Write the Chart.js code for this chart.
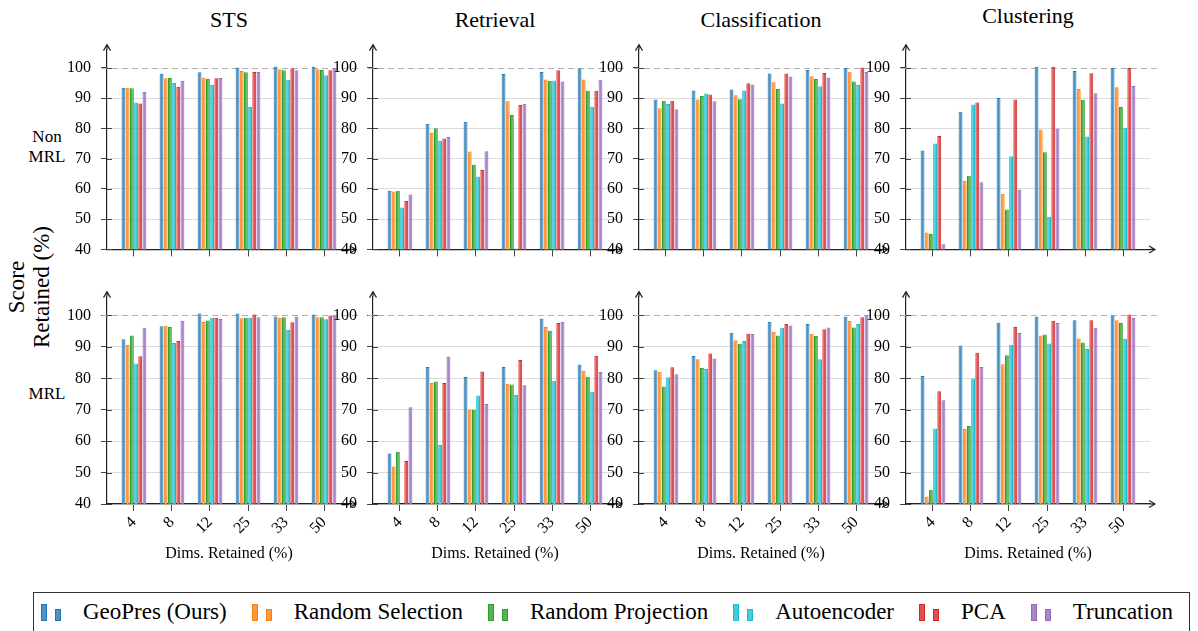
<!DOCTYPE html>
<html>
<head>
<meta charset="utf-8">
<script src="https://cdn.jsdelivr.net/npm/chart.js@4.4.0/dist/chart.umd.min.js"></script>
<style>
  body { margin: 0; background: #fff; font-family: "Liberation Serif", "Times New Roman", serif; color: #000; }
  #page { position: relative; width: 1198px; height: 631px; overflow: hidden; }
  #page canvas { position: absolute; }
  .title { position: absolute; font-size: 22px; line-height: 24px; transform: translateX(-50%); white-space: nowrap; }
  .side { position: absolute; font-size: 17px; line-height: 20px; transform: translateX(-50%); text-align: center; white-space: nowrap; }
  #ylab { position: absolute; left: 29px; top: 287px; transform: translate(-50%, -50%) rotate(-90deg); font-size: 23px; line-height: 25px; text-align: center; white-space: nowrap; }
  #legend { position: absolute; left: 33px; top: 592px; width: 1157px; height: 40px; border: 1px solid #333; display: flex; align-items: center; padding-left: 7px; box-sizing: border-box; font-size: 23px; }
  .item { display: flex; align-items: center; margin-right: 25px; white-space: nowrap; }
  .icon { display: flex; align-items: flex-end; height: 18px; margin-right: 22px; }
  .icon span { display: block; width: 4px; border: 1px solid; }
  .icon span + span { margin-left: 8px; }
</style>
</head>
<body>
<div id="page">
  <div class="title" style="left:229px; top:8px;">STS</div>
  <div class="title" style="left:495px; top:8px;">Retrieval</div>
  <div class="title" style="left:761px; top:8px;">Classification</div>
  <div class="title" style="left:1028px; top:4px;">Clustering</div>
  <div id="ylab">Score<br>Retained (%)</div>
  <div class="side" style="left:47px; top:127px;">Non<br>MRL</div>
  <div class="side" style="left:47px; top:384px;">MRL</div>
  <div id="legend"></div>
</div>

<script>
// Categories, methods and tick values
var dims = ['4', '8', '12', '25', '33', '50'];
var methods = ['GeoPres (Ours)', 'Random Selection', 'Random Projection', 'Autoencoder', 'PCA', 'Truncation'];
var yTicks = [40, 50, 60, 70, 80, 90, 100];

// Bar colours (edge and fill)
var lineColors = ['#1f77b4', '#ff7f0e', '#2ca02c', '#17becf', '#d62728', '#9467bd'];
var fillColors = ['#4c92c3', '#ff993e', '#56b356', '#45cbd9', '#de5253', '#a985ca'];

// Score retained (%), one row per method, one value per dims category
var stsNonMrl = [
  [93.4, 98.0, 98.5, 100.1, 100.4, 100.3],
  [93.4, 96.5, 96.8, 98.9, 99.5, 99.5],
  [93.2, 96.6, 96.4, 98.5, 99.2, 99.3],
  [88.5, 95.0, 94.3, 87.0, 96.0, 97.5],
  [88.2, 93.7, 96.5, 98.6, 99.8, 99.2],
  [92.0, 95.7, 96.6, 98.6, 99.2, 99.8]
];
var retrievalNonMrl = [
  [59.4, 81.5, 82.2, 97.9, 98.6, 99.8],
  [59.1, 78.6, 72.3, 88.9, 96.1, 96.1],
  [59.4, 80.0, 68.0, 84.4, 95.7, 92.4],
  [53.8, 75.9, 64.1, 40.3, 95.8, 87.1],
  [56.0, 76.6, 66.2, 87.7, 99.2, 92.4],
  [58.1, 77.1, 72.4, 88.1, 95.5, 96.0]
];
var classificationNonMrl = [
  [89.5, 92.5, 92.8, 98.1, 99.3, 99.9],
  [86.6, 89.5, 90.9, 95.2, 97.2, 98.7],
  [89.1, 90.7, 89.6, 93.0, 96.3, 95.5],
  [88.0, 91.5, 92.5, 88.2, 93.9, 94.3],
  [89.1, 91.2, 94.9, 98.1, 98.3, 100.1],
  [86.3, 88.9, 94.5, 97.1, 96.8, 98.6]
];
var clusteringNonMrl = [
  [72.7, 85.5, 90.0, 100.3, 98.9, 99.9],
  [45.6, 62.7, 58.4, 79.6, 93.0, 93.6],
  [45.1, 64.3, 53.2, 72.1, 89.4, 87.0],
  [75.0, 87.9, 70.8, 50.8, 77.3, 80.2],
  [77.5, 88.5, 89.5, 100.3, 98.2, 99.9],
  [41.7, 62.2, 59.8, 79.9, 91.6, 94.0]
];
var stsMrl = [
  [92.4, 96.6, 100.6, 100.6, 99.7, 100.3],
  [90.7, 96.7, 97.9, 99.1, 99.3, 99.4],
  [93.6, 96.3, 98.4, 99.3, 99.4, 99.4],
  [84.7, 91.2, 99.3, 99.3, 95.4, 98.8],
  [87.0, 91.9, 99.3, 100.3, 97.8, 100.0],
  [96.1, 98.3, 98.9, 99.4, 99.7, 100.0]
];
var retrievalMrl = [
  [56.1, 83.6, 80.4, 83.6, 99.0, 84.4],
  [51.9, 78.5, 70.0, 78.3, 96.3, 82.4],
  [56.6, 79.0, 70.0, 78.0, 95.1, 80.5],
  [null, 58.8, 74.5, 74.7, 79.2, 75.7],
  [53.7, 78.5, 82.2, 85.8, 97.6, 87.2],
  [70.8, 86.9, 71.8, 77.8, 98.0, 82.0]
];
var classificationMrl = [
  [82.6, 87.1, 94.5, 98.0, 97.3, 99.6],
  [82.1, 86.1, 92.1, 94.8, 94.2, 98.2],
  [77.4, 83.3, 91.0, 93.6, 93.5, 96.2],
  [80.3, 83.0, 91.9, 96.1, 86.1, 97.3],
  [83.5, 87.9, 94.2, 97.3, 95.6, 99.4],
  [81.3, 86.3, 94.1, 96.8, 96.2, 100.1]
];
var clusteringMrl = [
  [80.7, 90.4, 97.7, 99.6, 98.5, 100.0],
  [42.4, 63.9, 84.5, 93.6, 92.7, 98.5],
  [44.5, 64.8, 87.3, 93.9, 91.4, 97.6],
  [64.0, 79.9, 90.7, 91.1, 89.3, 92.6],
  [75.9, 88.1, 96.3, 98.3, 98.5, 100.3],
  [73.0, 83.6, 94.4, 97.6, 96.1, 99.2]
];

var serif = '"Liberation Serif", "Times New Roman", serif';
var colX = [107, 373, 639, 906]; // y axis position of each column
var rowTop = [30, 277];

// Plugin: dashed line at 100, inner tick marks and arrow heads on both axes
var axisArrows = {
  id: 'axisArrows',
  beforeDatasetsDraw: function (chart) {
    var a = chart.chartArea;
    var ctx = chart.ctx;
    var yScale = chart.scales.y;
    var y = Math.round(yScale.getPixelForValue(100)) + 0.5;
    ctx.save();
    ctx.strokeStyle = '#b0b0b0';
    ctx.lineWidth = 1;
    ctx.setLineDash([6, 4]);
    ctx.beginPath();
    ctx.moveTo(a.left - 5, y);
    ctx.lineTo(a.right + 8, y);
    ctx.stroke();
    ctx.setLineDash([]);
    ctx.strokeStyle = '#444';
    ctx.beginPath();
    for (var i = 0; i < yTicks.length; i++) {
      var ty = Math.round(yScale.getPixelForValue(yTicks[i])) + 0.5;
      ctx.moveTo(a.left, ty);
      ctx.lineTo(a.left + 5, ty);
    }
    ctx.stroke();
    ctx.restore();
  },
  afterDraw: function (chart) {
    var a = chart.chartArea;
    var ctx = chart.ctx;
    ctx.save();
    ctx.strokeStyle = '#222';
    ctx.lineWidth = 1.2;
    ctx.beginPath();
    // y axis
    ctx.moveTo(a.left, a.top);
    ctx.lineTo(a.left, a.top - 4);
    ctx.moveTo(a.left - 3.5, a.top + 1);
    ctx.lineTo(a.left, a.top - 5);
    ctx.lineTo(a.left + 3.5, a.top + 1);
    // x axis
    ctx.moveTo(a.right, a.bottom);
    ctx.lineTo(a.right + 4, a.bottom);
    ctx.moveTo(a.right - 1, a.bottom - 3.5);
    ctx.lineTo(a.right + 5, a.bottom);
    ctx.lineTo(a.right - 1, a.bottom + 3.5);
    ctx.stroke();
    ctx.restore();
  }
};

// Function to create one panel of grouped bars
function createPanel(values, col, row) {
  var canvas = document.createElement('canvas');
  var height = row === 1 ? 290 : 239;
  canvas.width = 318;
  canvas.height = height;
  canvas.style.left = (colX[col] - 60) + 'px';
  canvas.style.top = rowTop[row] + 'px';
  document.getElementById('page').appendChild(canvas);

  var datasets = [];
  for (var m = 0; m < methods.length; m++) {
    datasets.push({
      label: methods[m],
      data: values[m].map(function (v, i) { return { x: i, y: v }; }),
      backgroundColor: fillColors[m],
      borderColor: lineColors[m],
      borderWidth: 1,
      categoryPercentage: 0.66,
      barPercentage: 0.92
    });
  }

  new Chart(canvas.getContext('2d'), {
    type: 'bar',
    data: { datasets: datasets },
    plugins: [axisArrows],
    options: {
      responsive: false,
      animation: false,
      layout: { padding: { top: 10, right: 14, left: 0, bottom: 0 } },
      plugins: { legend: { display: false }, tooltip: { enabled: false } },
      scales: {
        x: {
          type: 'linear',
          offset: false,
          min: -0.71,
          max: 5.71,
          afterBuildTicks: function (s) {
            s.ticks = dims.map(function (d, i) { return { value: i }; });
          },
          afterFit: function (s) { s.height = row === 1 ? 63 : 12; },
          grid: { drawOnChartArea: false, offset: false, tickLength: 7, tickColor: '#444' },
          border: { color: '#222', width: 1.2 },
          ticks: {
            autoSkip: false,
            minRotation: 45,
            maxRotation: 45,
            padding: 2,
            color: '#000',
            font: { family: serif, size: 16 },
            callback: function (v) { return row === 1 ? dims[v] : ''; }
          },
          title: {
            display: row === 1,
            text: 'Dims. Retained (%)',
            color: '#000',
            font: { family: serif, size: 16 },
            padding: { top: 0, bottom: 4 }
          }
        },
        y: {
          min: 40,
          max: 106,
          afterBuildTicks: function (s) {
            s.ticks = yTicks.map(function (v) { return { value: v }; });
          },
          afterFit: function (s) { s.width = 60; },
          grid: {
            color: function (c) { return c.tick && c.tick.value === 100 ? 'rgba(0,0,0,0)' : '#dcdcdc'; },
            tickLength: 6,
            tickColor: '#444'
          },
          border: { color: '#222', width: 1.2 },
          ticks: { padding: 10, color: '#000', font: { family: serif, size: 16 } }
        }
      }
    }
  });
}

// Function to build the shared legend
function buildLegend() {
  var legend = document.getElementById('legend');
  for (var m = 0; m < methods.length; m++) {
    var item = '<div class="item">' +
      '<span class="icon">' +
      '<span style="height:15px; background:' + fillColors[m] + '; border-color:' + lineColors[m] + '"></span>' +
      '<span style="height:10px; background:' + fillColors[m] + '; border-color:' + lineColors[m] + '"></span>' +
      '</span>' + methods[m] + '</div>';
    legend.insertAdjacentHTML('beforeend', item);
  }
}

var panels = [
  [stsNonMrl, retrievalNonMrl, classificationNonMrl, clusteringNonMrl],
  [stsMrl, retrievalMrl, classificationMrl, clusteringMrl]
];
for (var r = 0; r < 2; r++) {
  for (var c = 0; c < 4; c++) {
    createPanel(panels[r][c], c, r);
  }
}
buildLegend();
</script>
</body>
</html>
